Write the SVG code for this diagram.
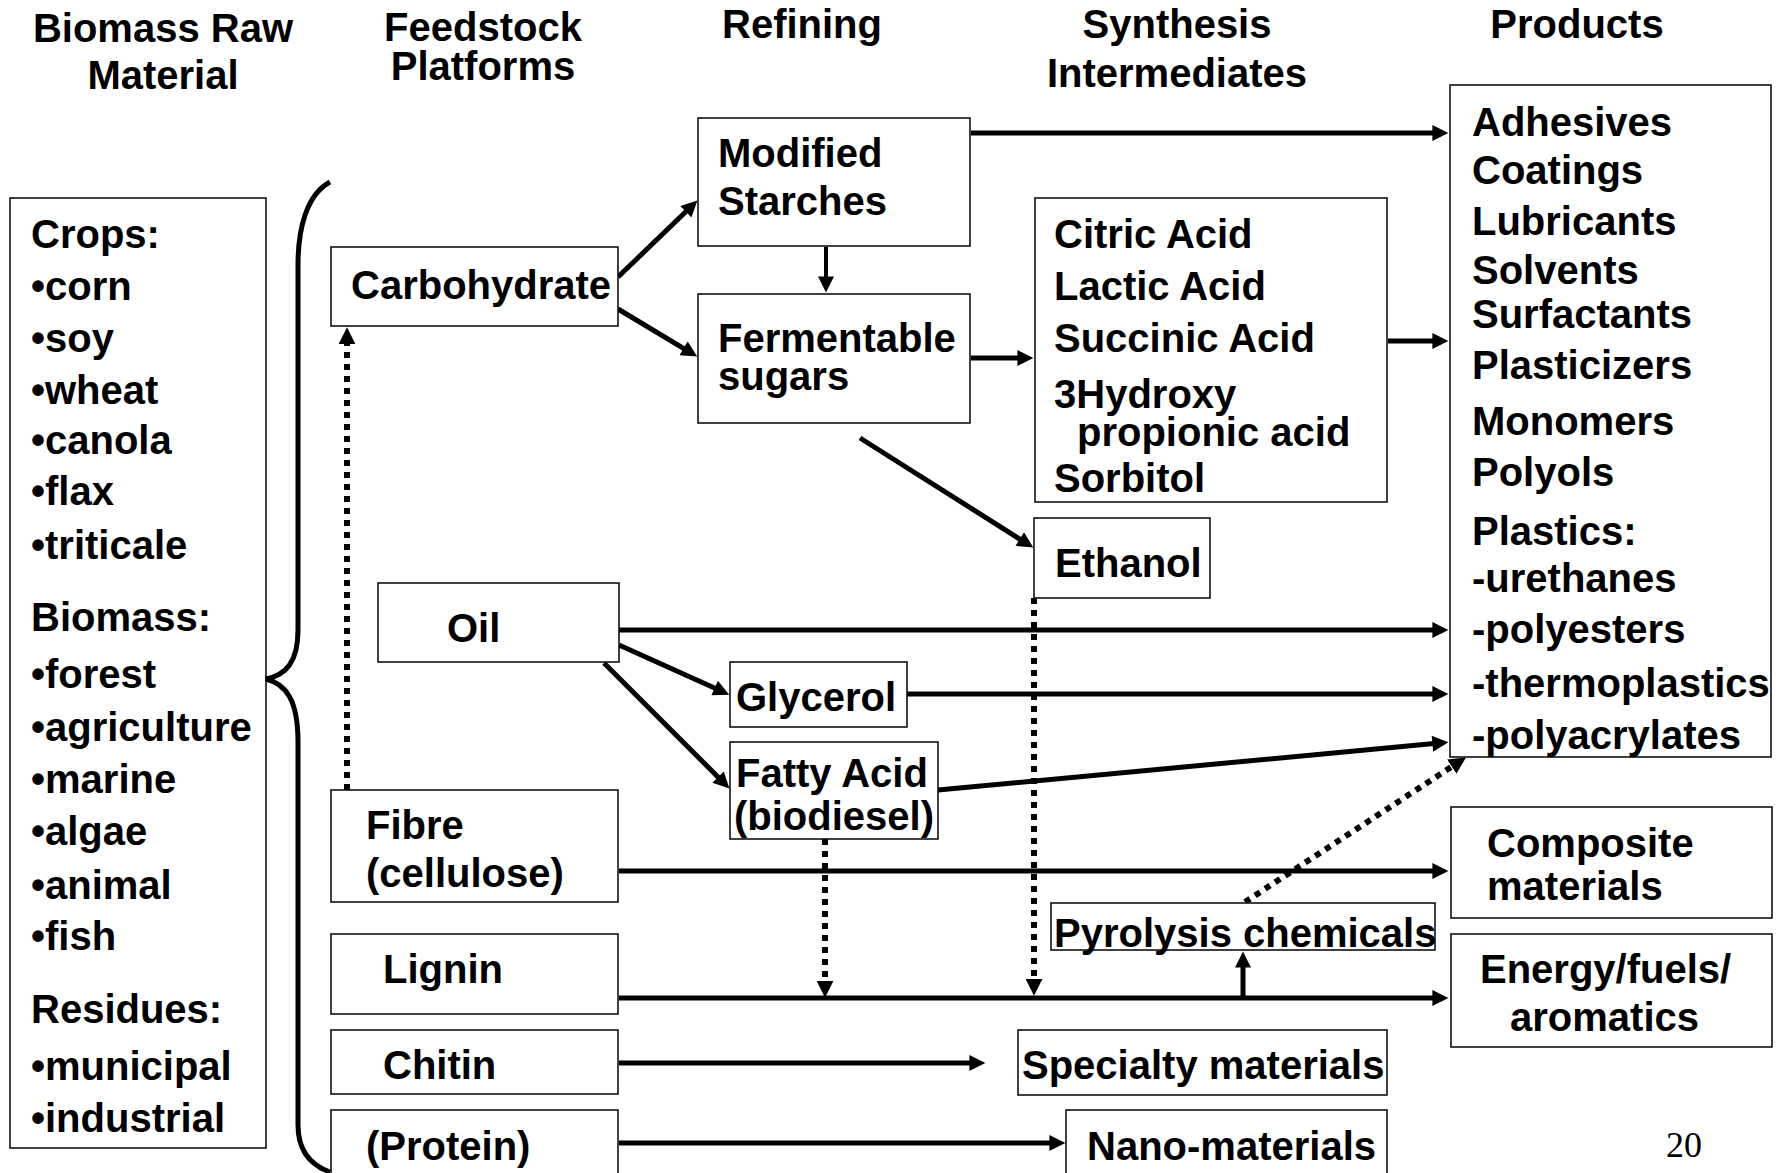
<svg xmlns="http://www.w3.org/2000/svg" width="1782" height="1173" viewBox="0 0 1782 1173">
<style>
  text { font-family: "Liberation Sans", Arial, sans-serif; font-weight: bold; font-size: 40px; fill: #000; }
  .title { text-anchor: middle; }
  .box { fill: #fff; stroke: #111; stroke-width: 1.6; }
  .conn { fill: none; stroke: #000; stroke-width: 5; }
  .thin { stroke-width: 4; }
  .dot { fill: none; stroke: #000; stroke-width: 6; stroke-dasharray: 6 6; }
  .pg { font-family: "Liberation Serif", "Times New Roman", serif; font-weight: normal; font-size: 36px; }
</style>
<defs>
  <marker id="ah" viewBox="0 0 10 10" refX="6" refY="5" markerWidth="17" markerHeight="16" markerUnits="userSpaceOnUse" orient="auto">
    <path d="M0,0 L10,5 L0,10 z" fill="#000"/>
  </marker>
  <marker id="ahs" viewBox="0 0 10 10" refX="6" refY="5" markerWidth="17" markerHeight="17" markerUnits="userSpaceOnUse" orient="auto">
    <path d="M0,0 L10,5 L0,10 z" fill="#000"/>
  </marker>
</defs>
<rect width="1782" height="1173" fill="#fff"/>

<g id="titles">
  <text class="title" x="163" y="42">Biomass Raw</text>
  <text class="title" x="163" y="89">Material</text>
  <text class="title" x="483" y="41">Feedstock</text>
  <text class="title" x="483" y="80">Platforms</text>
  <text class="title" x="802" y="38">Refining</text>
  <text class="title" x="1177" y="38">Synthesis</text>
  <text class="title" x="1177" y="87">Intermediates</text>
  <text class="title" x="1577" y="38">Products</text>
</g>

<g id="connectors">
  <line class="conn" x1="618" y1="277" x2="692.8" y2="205" marker-end="url(#ah)"/>
  <line class="conn" x1="618" y1="309" x2="691.8" y2="353.3" marker-end="url(#ah)"/>
  <line class="conn thin" x1="826" y1="247" x2="826" y2="286" marker-end="url(#ah)"/>
  <line class="conn" x1="971" y1="133" x2="1442" y2="133" marker-end="url(#ah)"/>
  <line class="conn" x1="971" y1="358" x2="1027" y2="358" marker-end="url(#ah)"/>
  <line class="conn" x1="1388" y1="341" x2="1442" y2="341" marker-end="url(#ah)"/>
  <line class="conn" x1="860" y1="438" x2="1027.9" y2="544.2" marker-end="url(#ah)"/>
  <line class="conn" x1="619" y1="630" x2="1442" y2="630" marker-end="url(#ah)"/>
  <line class="conn" x1="619" y1="645" x2="723.4" y2="692" marker-end="url(#ah)"/>
  <line class="conn" x1="604" y1="663" x2="724.9" y2="783.9" marker-end="url(#ah)"/>
  <line class="conn" x1="907" y1="694" x2="1442" y2="694" marker-end="url(#ah)"/>
  <line class="conn" x1="938" y1="790" x2="1442" y2="742.8" marker-end="url(#ah)"/>
  <line class="conn" x1="619" y1="871" x2="1442" y2="871" marker-end="url(#ah)"/>
  <line class="conn" x1="619" y1="998" x2="1442" y2="998" marker-end="url(#ah)"/>
  <line class="conn" x1="1243" y1="998" x2="1243" y2="958" marker-end="url(#ah)"/>
  <line class="conn" x1="619" y1="1063" x2="979" y2="1063" marker-end="url(#ah)"/>
  <line class="conn" x1="619" y1="1143" x2="1059" y2="1143" marker-end="url(#ah)"/>
  <line class="dot" x1="347" y1="790" x2="347" y2="334" marker-end="url(#ahs)"/>
  <line class="dot" x1="825" y1="839" x2="825" y2="991" marker-end="url(#ahs)"/>
  <line class="dot" x1="1034" y1="598" x2="1034" y2="989" marker-end="url(#ahs)"/>
  <line class="dot" x1="1245" y1="902" x2="1460.3" y2="761.1" marker-end="url(#ahs)"/>
</g>

<g id="raw-material">
  <rect class="box" x="10" y="198" width="256" height="950"/>
  <text x="31" y="248">Crops:</text>
  <text x="31" y="300">•corn</text>
  <text x="31" y="352">•soy</text>
  <text x="31" y="404">•wheat</text>
  <text x="31" y="454">•canola</text>
  <text x="31" y="505">•flax</text>
  <text x="31" y="559">•triticale</text>
  <text x="31" y="631">Biomass:</text>
  <text x="31" y="688">•forest</text>
  <text x="31" y="741">•agriculture</text>
  <text x="31" y="793">•marine</text>
  <text x="31" y="845">•algae</text>
  <text x="31" y="899">•animal</text>
  <text x="31" y="950">•fish</text>
  <text x="31" y="1023">Residues:</text>
  <text x="31" y="1080">•municipal</text>
  <text x="31" y="1132">•industrial</text>
</g>

<g id="brace">
  <path d="M330,182 C306,195 298,230 298,265 L298,630 C298,662 286,675 266,679 C286,684 298,700 298,742 L298,1125 C298,1150 310,1165 330,1172" fill="none" stroke="#000" stroke-width="5"/>
</g>

<g id="carbohydrate">
  <rect class="box" x="331" y="247" width="287" height="79"/>
  <text x="351" y="299">Carbohydrate</text>
</g>
<g id="oil">
  <rect class="box" x="378" y="583" width="241" height="79"/>
  <text x="447" y="642">Oil</text>
</g>
<g id="fibre">
  <rect class="box" x="331" y="790" width="287" height="112"/>
  <text x="366" y="839">Fibre</text>
  <text x="366" y="887">(cellulose)</text>
</g>
<g id="lignin">
  <rect class="box" x="331" y="934" width="287" height="80"/>
  <text x="383" y="983">Lignin</text>
</g>
<g id="chitin">
  <rect class="box" x="331" y="1030" width="287" height="64"/>
  <text x="383" y="1079">Chitin</text>
</g>
<g id="protein">
  <rect class="box" x="331" y="1110" width="287" height="80"/>
  <text x="366" y="1160">(Protein)</text>
</g>

<g id="modified-starches">
  <rect class="box" x="698" y="118" width="272" height="128"/>
  <text x="718" y="167">Modified</text>
  <text x="718" y="215">Starches</text>
</g>
<g id="fermentable-sugars">
  <rect class="box" x="698" y="294" width="272" height="129"/>
  <text x="718" y="352">Fermentable</text>
  <text x="718" y="390">sugars</text>
</g>
<g id="glycerol">
  <rect class="box" x="730" y="662" width="177" height="65"/>
  <text x="736" y="711">Glycerol</text>
</g>
<g id="fatty-acid">
  <rect class="box" x="730" y="742" width="208" height="97"/>
  <text x="736" y="787">Fatty Acid</text>
  <text x="734" y="830">(biodiesel)</text>
</g>

<g id="acids">
  <rect class="box" x="1035" y="198" width="352" height="304"/>
  <text x="1054" y="248">Citric Acid</text>
  <text x="1054" y="300">Lactic Acid</text>
  <text x="1054" y="352">Succinic Acid</text>
  <text x="1054" y="408">3Hydroxy</text>
  <text x="1077" y="446">propionic acid</text>
  <text x="1054" y="492">Sorbitol</text>
</g>
<g id="ethanol">
  <rect class="box" x="1034" y="518" width="176" height="80"/>
  <text x="1055" y="577">Ethanol</text>
</g>
<g id="pyrolysis">
  <rect class="box" x="1051" y="903" width="384" height="47"/>
  <text x="1054" y="947">Pyrolysis chemicals</text>
</g>
<g id="specialty">
  <rect class="box" x="1018" y="1030" width="369" height="65"/>
  <text x="1022" y="1079">Specialty materials</text>
</g>
<g id="nano">
  <rect class="box" x="1066" y="1110" width="321" height="80"/>
  <text x="1087" y="1160">Nano-materials</text>
</g>

<g id="products">
  <rect class="box" x="1450" y="85" width="321" height="672"/>
  <text x="1472" y="136">Adhesives</text>
  <text x="1472" y="184">Coatings</text>
  <text x="1472" y="235">Lubricants</text>
  <text x="1472" y="284">Solvents</text>
  <text x="1472" y="328">Surfactants</text>
  <text x="1472" y="379">Plasticizers</text>
  <text x="1472" y="435">Monomers</text>
  <text x="1472" y="486">Polyols</text>
  <text x="1472" y="545">Plastics:</text>
  <text x="1472" y="592">-urethanes</text>
  <text x="1472" y="643">-polyesters</text>
  <text x="1472" y="697">-thermoplastics</text>
  <text x="1472" y="749">-polyacrylates</text>
</g>
<g id="composite">
  <rect class="box" x="1451" y="807" width="321" height="111"/>
  <text x="1487" y="857">Composite</text>
  <text x="1487" y="900">materials</text>
</g>
<g id="energy">
  <rect class="box" x="1451" y="934" width="321" height="113"/>
  <text x="1480" y="983">Energy/fuels/</text>
  <text x="1510" y="1031">aromatics</text>
</g>
<g id="page-number">
  <text class="pg" x="1666" y="1157">20</text>
</g>
</svg>
